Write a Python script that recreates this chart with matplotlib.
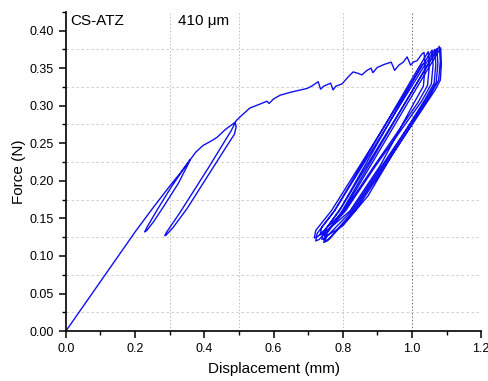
import matplotlib
matplotlib.use("Agg")
import matplotlib.pyplot as plt
from matplotlib.ticker import MultipleLocator

plt.rcParams["font.family"] = ["Liberation Sans", "DejaVu Sans"]

# initial loading line (mm, N)
load_x = [0.0, 0.05, 0.10, 0.15, 0.20, 0.25, 0.30, 0.33, 0.359]
load_y = [0.0, 0.033, 0.066, 0.099, 0.132, 0.163, 0.193, 0.210, 0.228]

# first small unload / reload loop
loop1_x = [0.352, 0.324, 0.284, 0.254, 0.234, 0.228, 0.234, 0.266, 0.302, 0.336, 0.359]
loop1_y = [0.221, 0.196, 0.167, 0.146, 0.134, 0.132, 0.138, 0.163, 0.190, 0.213, 0.228]

# envelope up to second loop
env1_x = [0.375, 0.396, 0.420, 0.437, 0.460, 0.489]
env1_y = [0.238, 0.247, 0.253, 0.258, 0.268, 0.278]

# second unload / reload loop
loop2_x = [0.492, 0.487, 0.470, 0.430, 0.390, 0.350, 0.310, 0.290, 0.286,
           0.290, 0.330, 0.370, 0.410, 0.450, 0.478, 0.492]
loop2_y = [0.272, 0.262, 0.250, 0.221, 0.192, 0.163, 0.138, 0.128, 0.127,
           0.131, 0.158, 0.187, 0.216, 0.246, 0.267, 0.280]

# envelope with small drops up to the cyclic part
env2_x = [0.503, 0.532, 0.560, 0.581, 0.587, 0.600, 0.619, 0.650, 0.697, 0.710,
          0.729, 0.736, 0.745, 0.765, 0.772, 0.780, 0.798, 0.815, 0.830, 0.845,
          0.855, 0.870, 0.882, 0.887, 0.900, 0.920, 0.940, 0.950, 0.955, 0.962,
          0.975, 0.986, 0.996, 1.004, 1.015, 1.029, 1.035]
env2_y = [0.285, 0.297, 0.302, 0.306, 0.303, 0.309, 0.314, 0.318, 0.323, 0.326,
          0.332, 0.322, 0.326, 0.330, 0.321, 0.326, 0.329, 0.338, 0.345, 0.343,
          0.341, 0.347, 0.350, 0.344, 0.351, 0.355, 0.358, 0.347, 0.350, 0.354,
          0.358, 0.365, 0.354, 0.358, 0.360, 0.369, 0.371]

# cyclic unload / reload between ~0.72 and ~1.08 mm
cyc_x = [1.038, 1.033, 1.005, 0.908, 0.821, 0.745, 0.735,
         0.739, 0.776, 0.853, 0.942, 1.012, 1.047,
         1.050, 1.045, 1.017, 0.891, 0.804, 0.728, 0.718,
         0.722, 0.767, 0.849, 0.944, 1.019, 1.058,
         1.061, 1.056, 1.028, 0.895, 0.808, 0.732, 0.722,
         0.726, 0.776, 0.857, 0.951, 1.025, 1.066,
         1.069, 1.064, 1.036, 0.918, 0.831, 0.755, 0.745,
         0.749, 0.798, 0.874, 0.963, 1.033, 1.072,
         1.075, 1.070, 1.042, 0.913, 0.826, 0.750, 0.740,
         0.744, 0.790, 0.869, 0.962, 1.034, 1.079,
         1.082, 1.077, 1.049, 0.923, 0.836, 0.760, 0.750,
         0.754, 0.802, 0.880, 0.970, 1.041, 1.083,
         1.085, 1.082, 1.067, 1.044, 0.995, 0.946, 0.873, 0.800, 0.758, 0.748,
         0.752, 0.796, 0.870, 0.950, 1.011, 1.030]
cyc_y = [0.351, 0.326, 0.303, 0.220, 0.160, 0.130, 0.128,
         0.138, 0.160, 0.220, 0.290, 0.345, 0.372,
         0.352, 0.327, 0.304, 0.220, 0.160, 0.126, 0.124,
         0.134, 0.160, 0.220, 0.290, 0.345, 0.374,
         0.354, 0.329, 0.306, 0.220, 0.160, 0.122, 0.120,
         0.130, 0.160, 0.220, 0.290, 0.345, 0.375,
         0.355, 0.330, 0.307, 0.220, 0.160, 0.120, 0.118,
         0.128, 0.160, 0.220, 0.290, 0.345, 0.376,
         0.356, 0.331, 0.308, 0.220, 0.160, 0.124, 0.122,
         0.132, 0.160, 0.220, 0.290, 0.345, 0.379,
         0.359, 0.334, 0.311, 0.220, 0.160, 0.122, 0.120,
         0.130, 0.160, 0.220, 0.290, 0.345, 0.377,
         0.355, 0.334, 0.321, 0.305, 0.271, 0.237, 0.180, 0.140, 0.128, 0.126,
         0.136, 0.165, 0.225, 0.290, 0.340, 0.355]

xs = load_x + loop1_x + env1_x + loop2_x + env2_x + cyc_x
ys = load_y + loop1_y + env1_y + loop2_y + env2_y + cyc_y

fig = plt.figure(figsize=(4.88, 3.81), dpi=100)
ax = fig.add_axes([0.135, 0.131, 0.851, 0.838])

# grid like the Origin export
for gy in [0.025, 0.075, 0.125, 0.175, 0.225, 0.275, 0.325, 0.375]:
    ax.axhline(gy, color="#c8c8c8", lw=0.6, ls=(0, (3, 3)), zorder=0)
for gx in [0.3, 0.5, 0.8]:
    ax.axvline(gx, color="#bdbdbd", lw=0.7, ls=(0, (1.5, 2)), zorder=0)
ax.axvline(1.0, color="#707070", lw=0.7, ls=(0, (1.5, 2)), zorder=0)

ax.plot(xs, ys, color="#1010ee", lw=1.0)

ax.set_xlim(0, 1.2)
ax.set_ylim(0, 0.425)
ax.xaxis.set_major_locator(MultipleLocator(0.2))
ax.xaxis.set_minor_locator(MultipleLocator(0.1))
ax.yaxis.set_major_locator(MultipleLocator(0.05))
ax.yaxis.set_minor_locator(MultipleLocator(0.025))
ax.xaxis.set_major_formatter(plt.FuncFormatter(lambda v, p: f"{v:.1f}"))
ax.yaxis.set_major_formatter(plt.FuncFormatter(lambda v, p: f"{v:.2f}"))

for s in ["top", "right"]:
    ax.spines[s].set_visible(False)
for s in ["left", "bottom"]:
    ax.spines[s].set_linewidth(1.2)
ax.tick_params(which="major", direction="out", length=5, width=1.1, labelsize=9)
ax.tick_params(which="minor", direction="out", length=3, width=1.0)

ax.set_xlabel("Displacement (mm)", fontsize=11, labelpad=5)
ax.set_ylabel("Force (N)", fontsize=11, labelpad=3)

ax.text(0.01, 0.993, "CS-ATZ", transform=ax.transAxes, fontsize=11, va="top")
ax.text(0.27, 0.993, "410 μm", transform=ax.transAxes, fontsize=11, va="top")

fig.savefig("out.png", dpi=100)
